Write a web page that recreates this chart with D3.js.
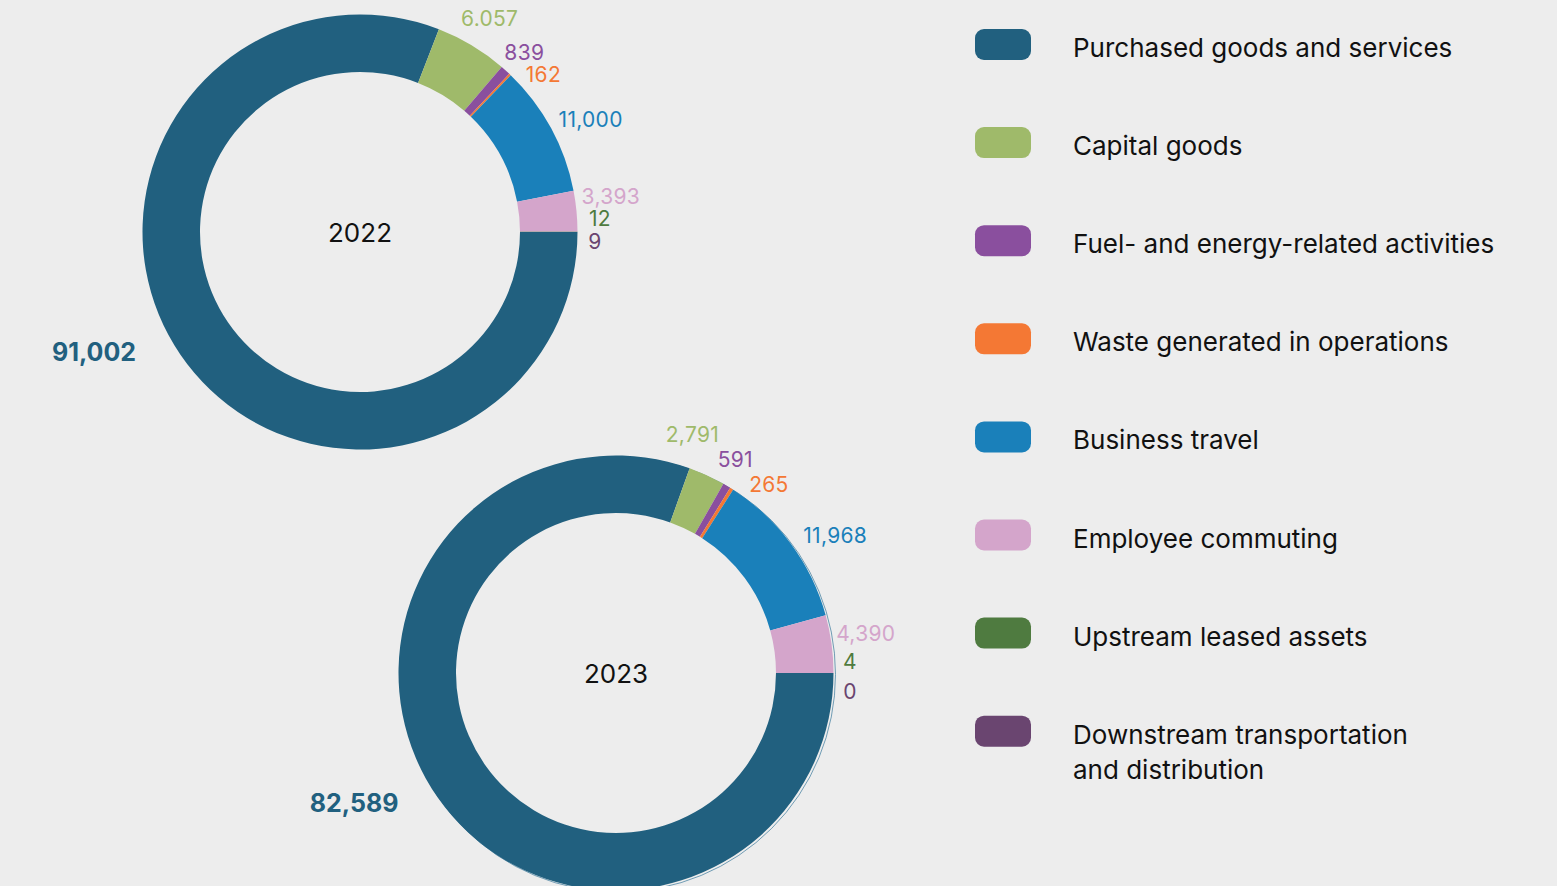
<!DOCTYPE html>
<html>
<head>
<meta charset="utf-8">
<script src="https://cdn.jsdelivr.net/npm/d3@7"></script>
<style>
  html, body { margin: 0; padding: 0; background: #ededed; }
  svg { display: block; font-family: "Inter", "Noto Sans", sans-serif; }
</style>
</head>
<body>
<svg id="chart" width="1557" height="886"></svg>
<script>
// Scope 3 emission categories (tCO2e)
const categories = [
  "Purchased goods and services",
  "Capital goods",
  "Fuel- and energy-related activities",
  "Waste generated in operations",
  "Business travel",
  "Employee commuting",
  "Upstream leased assets",
  "Downstream transportation and distribution"
];
const years = ["2022", "2023"];
const values2022 = [91002, 6057, 839, 162, 11000, 3393, 12, 9];
const values2023 = [82589, 2791, 591, 265, 11968, 4390, 4, 0];
// value labels as printed in the report
const labels2022 = ["91,002", "6.057", "839", "162", "11,000", "3,393", "12", "9"];
const labels2023 = ["82,589", "2,791", "591", "265", "11,968", "4,390", "4", "0"];

const colors = ["#21607f", "#9fba6a", "#8a4f9e", "#f47834", "#1a80ba", "#d4a5cb", "#4f7b40", "#6a4570"];

// legend text, split where it wraps
const legendLines = [
  ["Purchased goods and services"],
  ["Capital goods"],
  ["Fuel- and energy-related activities"],
  ["Waste generated in operations"],
  ["Business travel"],
  ["Employee commuting"],
  ["Upstream leased assets"],
  ["Downstream transportation", "and distribution"]
];

// layout
const W = 1557, H = 886;
const rOuter = 217.5, rInner = 160;
const donuts = [
  { year: years[0], values: values2022, labels: labels2022, cx: 360, cy: 232,
    // label offsets (px) from the radial anchor, to keep small labels apart
    nudge: [[-25, -45], [1, 1], [-3, 6], [11, 24], [11, 7], [2, -12], [-10, -13], [-15, 10]] },
  { year: years[1], values: values2023, labels: labels2023, cx: 616, cy: 673,
    nudge: [[-23, -38], [-28, -11], [-8, 2], [20, 23], [18, 11], [2, -6], [-16, -11], [-16, 18]] }
];

const svg = d3.select("#chart");
svg.append("rect").attr("width", W).attr("height", H).attr("fill", "#ededed");

const color = d3.scaleOrdinal().domain(categories).range(colors);
const pie = d3.pie().sort(null).value(d => d.value)
  .startAngle(Math.PI / 2).endAngle(Math.PI / 2 + 2 * Math.PI);
const arc = d3.arc().innerRadius(rInner).outerRadius(rOuter);

donuts.forEach((dn, di) => {
  const g = svg.append("g").attr("transform", `translate(${dn.cx},${dn.cy})`);
  const data = categories.map((c, i) => ({ cat: c, value: dn.values[i], label: dn.labels[i], i }));
  const arcs = pie(data);

  if (di === 1) {
    // faint offset rim of the ring
    g.append("circle")
      .attr("cx", 2).attr("cy", 1.5).attr("r", rOuter)
      .attr("fill", "none").attr("stroke", "#3f7c9e")
      .attr("stroke-width", 0.9).attr("opacity", 0.8);
  }

  g.selectAll("path.seg").data(arcs).join("path")
    .attr("class", "seg")
    .attr("d", arc)
    .attr("fill", d => color(d.data.cat));

  g.append("text")
    .attr("text-anchor", "middle").attr("dominant-baseline", "central")
    .attr("font-size", 26).attr("fill", "#111")
    .text(dn.year);

  g.selectAll("text.val").data(arcs).join("text")
    .attr("class", "val")
    .attr("text-anchor", "middle").attr("dominant-baseline", "central")
    .attr("font-size", d => d.index === 0 ? 25 : 21)
    .attr("letter-spacing", d => d.index === 0 ? 0 : 0.3)
    .attr("font-weight", d => d.index === 0 ? 700 : 400)
    .attr("fill", d => color(d.data.cat))
    .attr("x", d => {
      const a = (d.startAngle + d.endAngle) / 2;
      const r = d.index === 0 ? 292 : 250;
      return r * Math.sin(a) + dn.nudge[d.index][0];
    })
    .attr("y", d => {
      const a = (d.startAngle + d.endAngle) / 2;
      const r = d.index === 0 ? 292 : 250;
      return -r * Math.cos(a) + dn.nudge[d.index][1];
    })
    .text(d => d.data.label);
});

// legend
const legend = svg.append("g").attr("transform", "translate(975,44)");
const rowStep = 98.1;
const rows = legend.selectAll("g.row").data(categories).join("g")
  .attr("class", "row")
  .attr("transform", (d, i) => `translate(0,${i * rowStep})`);
rows.append("rect")
  .attr("x", 0).attr("y", -15).attr("width", 56).attr("height", 31)
  .attr("rx", 9).attr("fill", d => color(d));
rows.each(function (d, i) {
  const t = d3.select(this).append("text")
    .attr("x", 98).attr("y", 3)
    .attr("font-size", 26).attr("fill", "#111")
    .attr("dominant-baseline", "central");
  legendLines[i].forEach((line, k) => {
    t.append("tspan").attr("x", 98).attr("dy", k === 0 ? 0 : 35).text(line);
  });
});
</script>
</body>
</html>
